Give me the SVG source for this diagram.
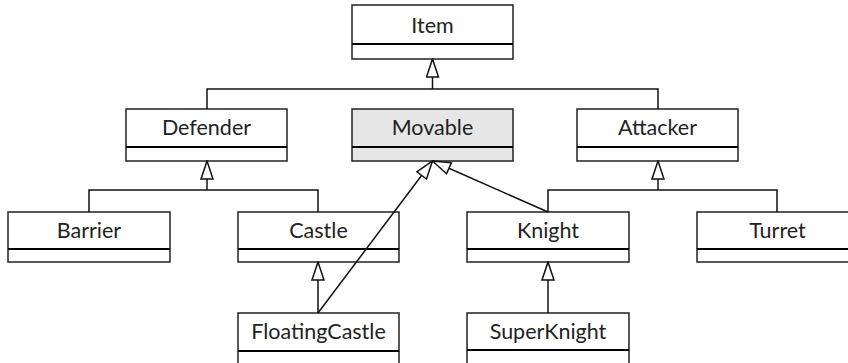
<svg xmlns="http://www.w3.org/2000/svg" width="848" height="363" viewBox="0 0 848 363">
<style>
.box{fill:#fff;stroke:#222;stroke-width:1.5}
.iface{fill:#e6e6e6;stroke:#222;stroke-width:1.5}
.div{stroke:#000;stroke-width:2.2}
.lbl{font-family:Lato,"Open Sans",sans-serif;font-size:21.5px;font-weight:400;fill:#222;text-anchor:middle}
.c{fill:none;stroke:#111;stroke-width:1.5}
</style>
<defs>
<marker id="tri" viewBox="-1 -1 20 14" markerWidth="20" markerHeight="14" refX="18" refY="6" orient="auto" markerUnits="userSpaceOnUse">
<path d="M0,0 L18,6 L0,12 Z" fill="#fff" stroke="#111" stroke-width="1.5" stroke-linejoin="miter"/>
</marker>
</defs>
<rect width="848" height="363" fill="#fff"/>
<g id="item"><rect class="box" x="352" y="5" width="161" height="54"/><line class="div" x1="352" y1="44" x2="513" y2="44"/><text class="lbl" x="432.5" y="33">Item</text></g>
<g id="defender"><rect class="box" x="126" y="109" width="161" height="52"/><line class="div" x1="126" y1="147" x2="287" y2="147"/><text class="lbl" x="206.5" y="135">Defender</text></g>
<g id="movable"><rect class="iface" x="352" y="109" width="161" height="52"/><line class="div" x1="352" y1="147" x2="513" y2="147"/><text class="lbl" x="432.5" y="135">Movable</text></g>
<g id="attacker"><rect class="box" x="577" y="109" width="161" height="52"/><line class="div" x1="577" y1="147" x2="738" y2="147"/><text class="lbl" x="657.5" y="135">Attacker</text></g>
<g id="barrier"><rect class="box" x="8" y="212" width="162" height="50"/><line class="div" x1="8" y1="249" x2="170" y2="249"/><text class="lbl" x="89" y="238">Barrier</text></g>
<g id="castle"><rect class="box" x="238" y="212" width="161" height="50"/><line class="div" x1="238" y1="249" x2="399" y2="249"/><text class="lbl" x="318.5" y="238">Castle</text></g>
<g id="knight"><rect class="box" x="467" y="212" width="162" height="50"/><line class="div" x1="467" y1="249" x2="629" y2="249"/><text class="lbl" x="548" y="238">Knight</text></g>
<g id="turret"><rect class="box" x="697" y="212" width="161" height="50"/><line class="div" x1="697" y1="249" x2="858" y2="249"/><text class="lbl" x="777.5" y="238">Turret</text></g>
<g id="floatingcastle"><rect class="box" x="238" y="313" width="161" height="60"/><line class="div" x1="238" y1="351" x2="399" y2="351"/><text class="lbl" x="318.5" y="339">FloatingCastle</text></g>
<g id="superknight"><rect class="box" x="467" y="313" width="162" height="60"/><line class="div" x1="467" y1="350" x2="629" y2="350"/><text class="lbl" x="548" y="339">SuperKnight</text></g>
<g id="connectors">
<path class="c" d="M207,109 V89 H658 V109"/>
<path class="c" d="M432.5,89 V59" marker-end="url(#tri)"/>
<path class="c" d="M89,212 V190 H318 V212"/>
<path class="c" d="M207,190 V161" marker-end="url(#tri)"/>
<path class="c" d="M548,212 V190 H777 V212"/>
<path class="c" d="M658,190 V161" marker-end="url(#tri)"/>
<path class="c" d="M318,313 V262" marker-end="url(#tri)"/>
<path class="c" d="M548,313 V262" marker-end="url(#tri)"/>
<path class="c" d="M318,313 L432.5,161" marker-end="url(#tri)"/>
<path class="c" d="M548,212 L432.5,161" marker-end="url(#tri)"/>
</g>
</svg>
